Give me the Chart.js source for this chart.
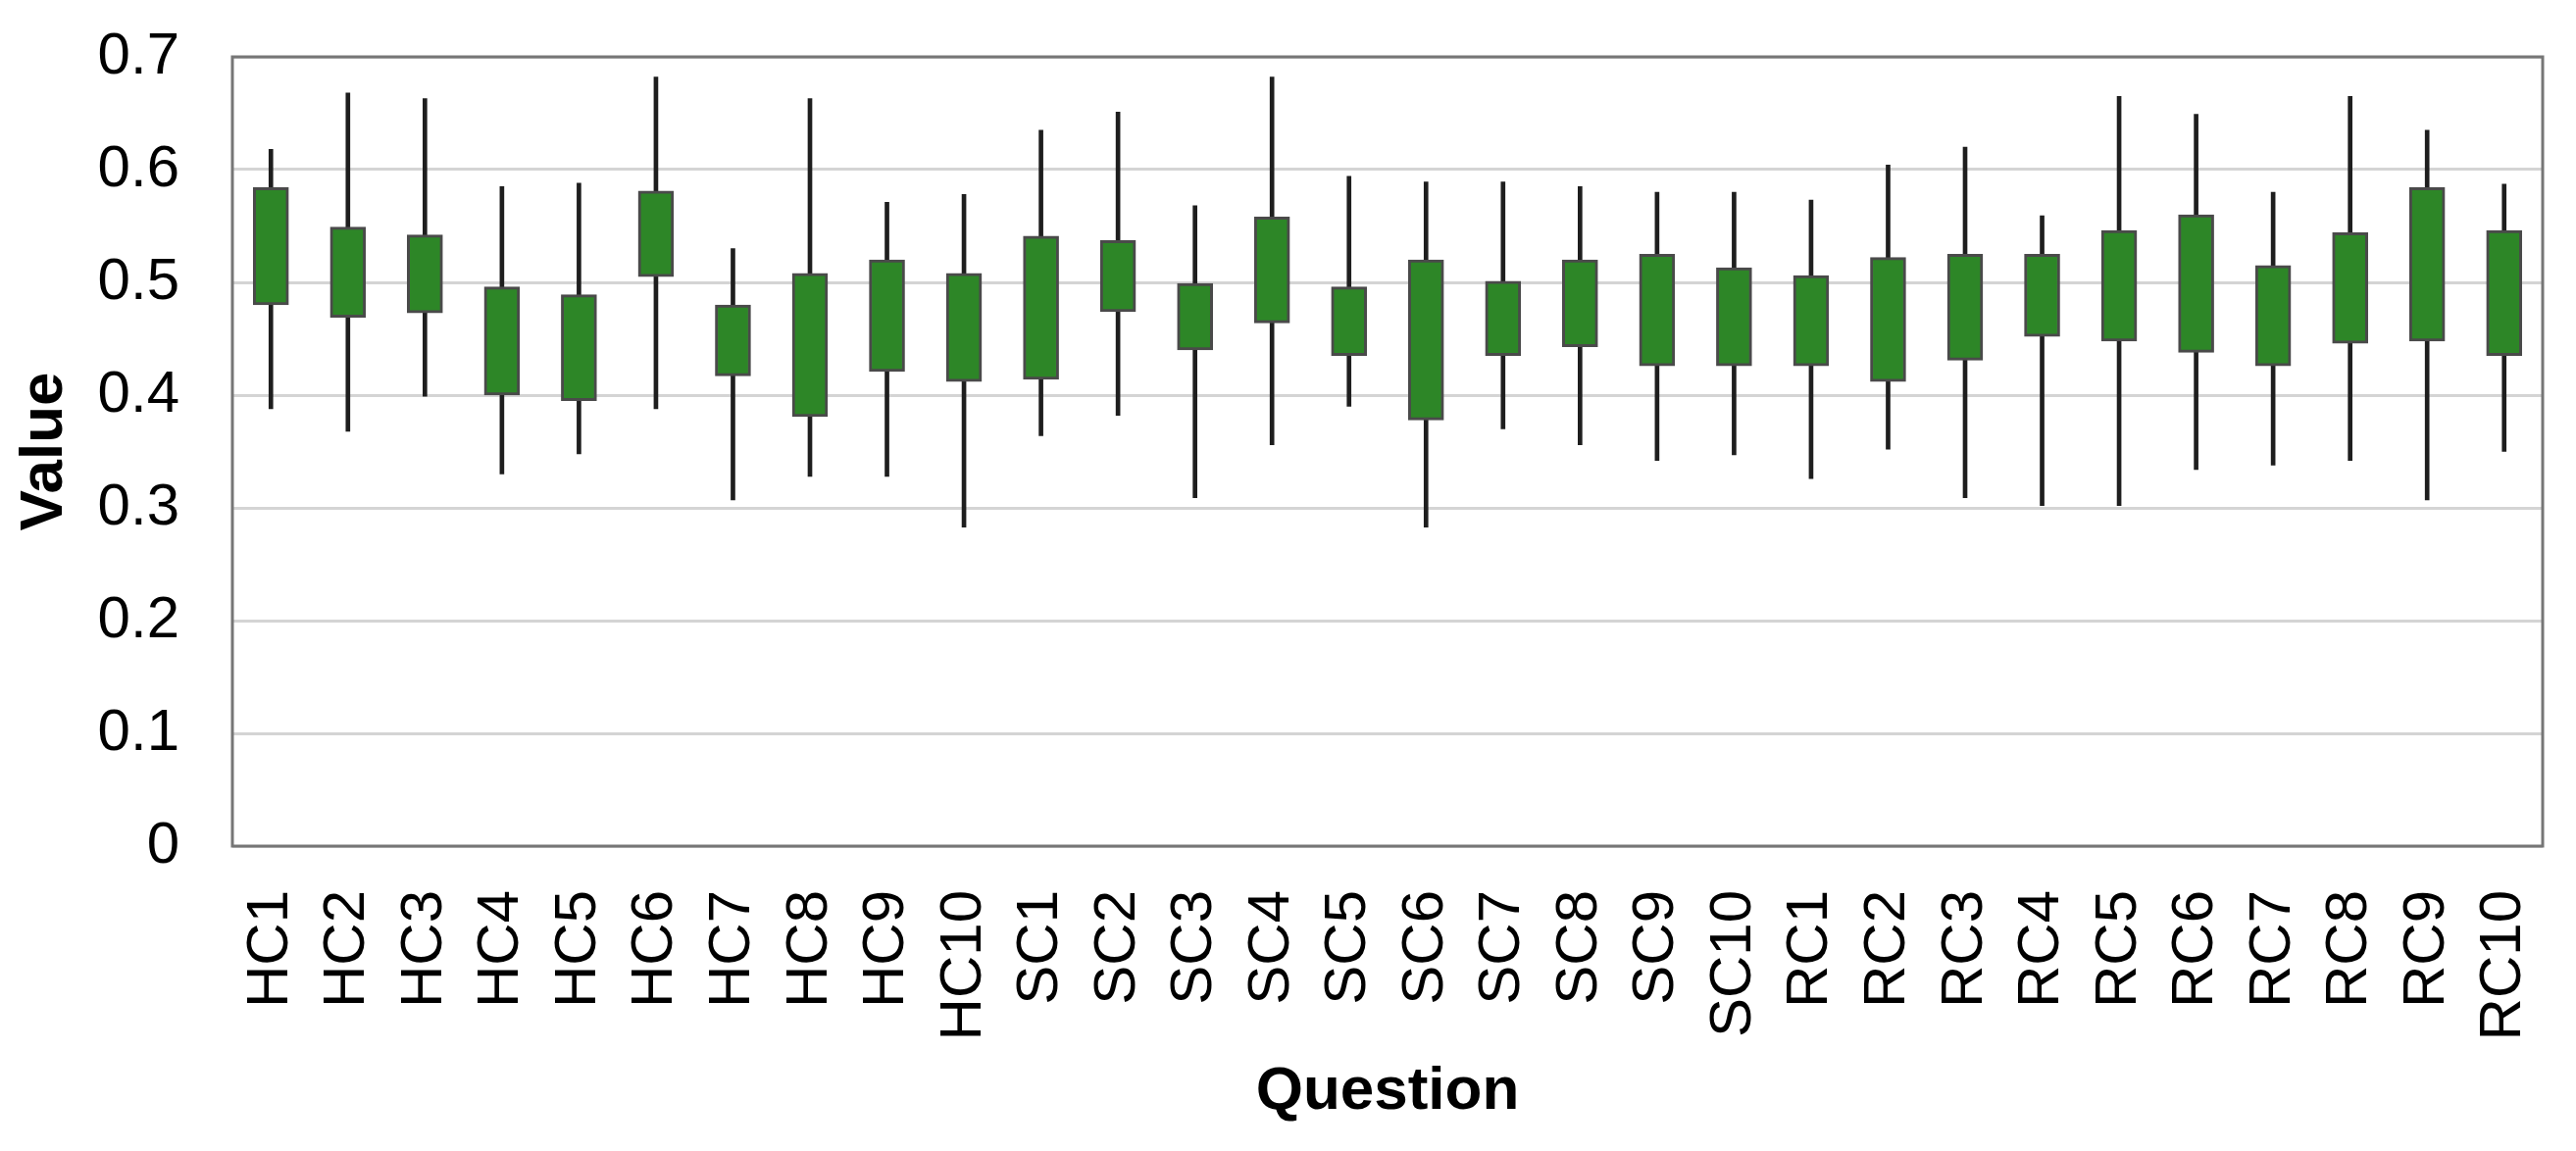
<!DOCTYPE html>
<html lang="en">
<head>
  <meta charset="UTF-8">
  <title>Value by Question</title>
  <script src="https://cdn.jsdelivr.net/npm/chart.js"></script>
  <style>
    body { margin: 0; background: #ffffff; }
    #wrap { width: 2627px; height: 1174px; }
  </style>
</head>
<body>

<div id="wrap">
  <canvas id="myChart" width="2627" height="1174"></canvas>
</div>

<script>
const questions = ['HC1','HC2','HC3','HC4','HC5','HC6','HC7','HC8','HC9','HC10',
                   'SC1','SC2','SC3','SC4','SC5','SC6','SC7','SC8','SC9','SC10',
                   'RC1','RC2','RC3','RC4','RC5','RC6','RC7','RC8','RC9','RC10'];

// whisker ends and box edges
const whiskerLow  = [0.388,0.368,0.399,0.330,0.348,0.388,0.307,0.328,0.328,0.283,
                     0.364,0.382,0.309,0.356,0.390,0.283,0.370,0.356,0.342,0.347,
                     0.326,0.352,0.309,0.302,0.302,0.334,0.338,0.342,0.307,0.350];
const boxLow      = [0.480,0.469,0.473,0.400,0.395,0.505,0.417,0.381,0.421,0.412,
                     0.414,0.474,0.440,0.464,0.435,0.378,0.435,0.443,0.426,0.426,
                     0.426,0.412,0.431,0.452,0.448,0.438,0.426,0.446,0.448,0.435];
const boxHigh     = [0.584,0.549,0.542,0.496,0.489,0.581,0.480,0.508,0.520,0.508,
                     0.541,0.537,0.499,0.558,0.496,0.520,0.501,0.520,0.525,0.513,
                     0.506,0.522,0.525,0.525,0.546,0.560,0.515,0.544,0.584,0.546];
const whiskerHigh = [0.618,0.668,0.663,0.585,0.588,0.682,0.530,0.663,0.571,0.578,
                     0.635,0.651,0.568,0.682,0.594,0.589,0.589,0.585,0.580,0.580,
                     0.573,0.604,0.620,0.559,0.665,0.649,0.580,0.665,0.635,0.587];

const yMin = 0, yMax = 0.7, yStep = 0.1;

const whiskers = questions.map((q, i) => [whiskerLow[i], whiskerHigh[i]]);
const boxes = questions.map((q, i) => [boxLow[i], boxHigh[i]]);

// outline round the plot area
const framePlugin = {
  id: 'frame',
  afterDraw(chart) {
    const a = chart.chartArea, ctx = chart.ctx;
    ctx.save();
    ctx.strokeStyle = '#767676';
    ctx.lineWidth = 3;
    ctx.strokeRect(a.left, a.top, a.right - a.left, a.bottom - a.top);
    ctx.restore();
  }
};

const ctx = document.getElementById('myChart').getContext('2d');
new Chart(ctx, {
  type: 'bar',
  data: {
    labels: questions,
    datasets: [
      {
        label: 'range',
        data: whiskers,
        backgroundColor: '#1e1e1e',
        borderWidth: 0,
        barThickness: 4,
        grouped: false,
        order: 2
      },
      {
        label: 'box',
        data: boxes,
        backgroundColor: '#2d8627',
        borderColor: '#4a4a4a',
        borderWidth: 3,
        borderSkipped: false,
        barThickness: 36,
        grouped: false,
        order: 1
      }
    ]
  },
  options: {
    responsive: false,
    animation: false,
    devicePixelRatio: 1,
    layout: { padding: { top: 58, right: 34, left: 0, bottom: 0 } },
    plugins: {
      legend: { display: false },
      tooltip: { enabled: false }
    },
    scales: {
      x: {
        grid: { display: false, drawTicks: false },
        border: { display: false },
        ticks: {
          autoSkip: false,
          minRotation: 90,
          maxRotation: 90,
          padding: 45,
          color: '#000',
          font: { family: 'Liberation Sans', size: 60 }
        },
        title: {
          display: true,
          text: 'Question',
          color: '#000',
          padding: { top: 0, bottom: 23 },
          font: { family: 'Liberation Sans', size: 62, weight: 'bold' }
        },
        afterFit(scale) {
          scale.height = 311;
          scale.paddingLeft = 0;
          scale.paddingRight = 0;
        }
      },
      y: {
        min: yMin,
        max: yMax,
        grid: { color: '#d4d4d4', lineWidth: 3, drawTicks: false },
        border: { display: false },
        ticks: {
          stepSize: yStep,
          padding: 54,
          color: '#000',
          font: { family: 'Liberation Sans', size: 60 },
          callback: v => +v.toFixed(1)
        },
        title: {
          display: true,
          text: 'Value',
          color: '#000',
          padding: { top: 9, bottom: 0 },
          font: { family: 'Liberation Sans', size: 62, weight: 'bold' }
        },
        afterFit(scale) {
          scale.width = 237;
          scale.paddingTop = 0;
          scale.paddingBottom = 0;
        }
      }
    }
  },
  plugins: [framePlugin]
});
</script>

</body>
</html>
